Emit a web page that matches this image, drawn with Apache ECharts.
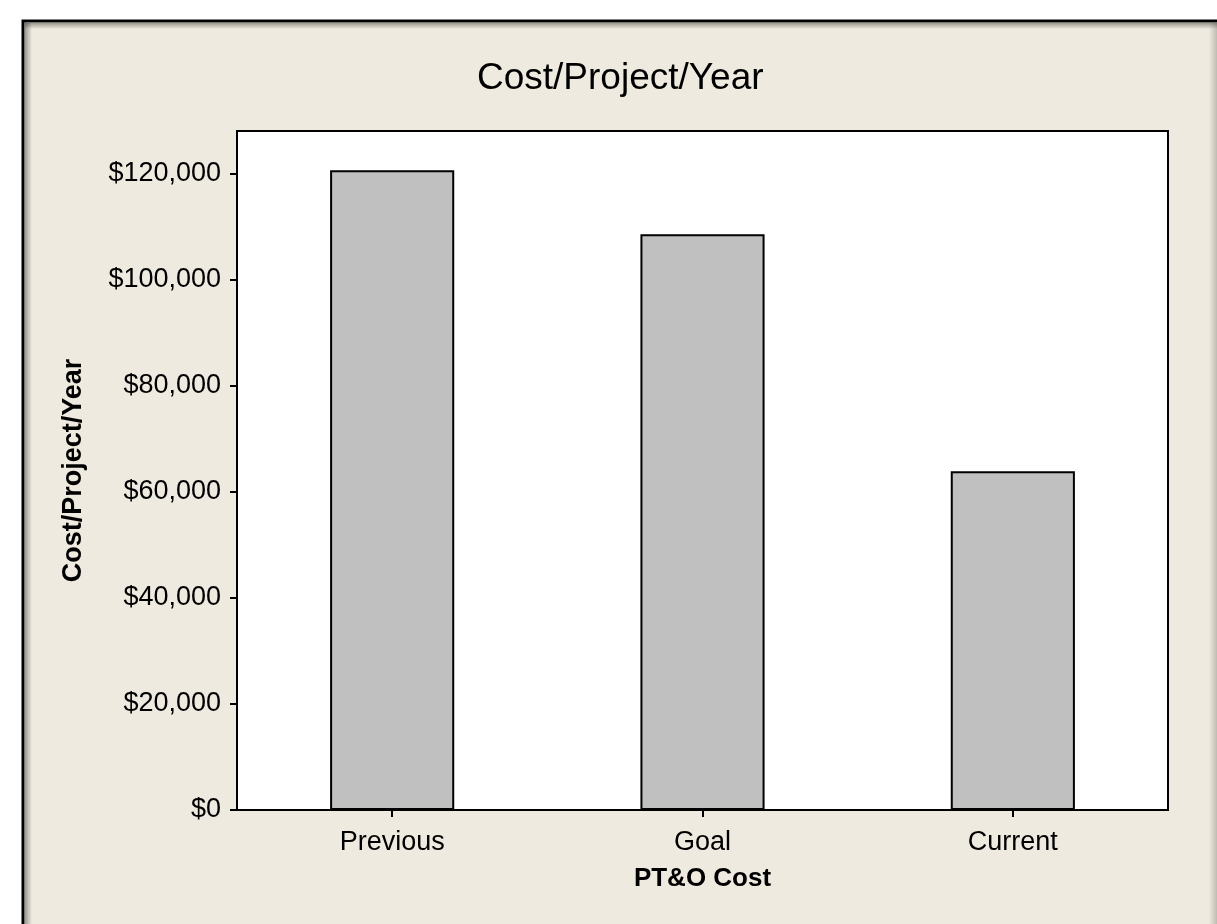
<!DOCTYPE html>
<html>
<head>
<meta charset="utf-8">
<script src="https://cdn.jsdelivr.net/npm/echarts@6/dist/echarts.min.js"></script>
<style>
html,body{margin:0;padding:0;background:#fff;}
#chart{width:1217px;height:924px;}
</style>
</head>
<body>
<div id="chart"></div>
<script>
var categories = ['Previous', 'Goal', 'Current'];
var costValues = [120700, 108600, 63900];
var yTicks = [0, 20000, 40000, 60000, 80000, 100000, 120000];
var yMax = 128100;

var FONT = 'Liberation Sans';
function money(v) { return '$' + Number(v).toLocaleString('en-US'); }

var chart = echarts.init(document.getElementById('chart'), null, {renderer: 'canvas'});
chart.setOption({
  backgroundColor: '#ffffff',
  animation: false,
  graphic: [
    {type: 'rect', z: -10, shape: {x: 23, y: 21, width: 1210, height: 920},
     style: {fill: '#EEEAE0', stroke: '#000', lineWidth: 3}},
    {type: 'rect', z: -9, shape: {x: 25, y: 23, width: 1210, height: 6},
     style: {fill: {type: 'linear', x: 0, y: 0, x2: 0, y2: 1, colorStops: [{offset: 0, color: 'rgba(0,0,0,0.35)'}, {offset: 1, color: 'rgba(0,0,0,0)'}]}}},
    {type: 'rect', z: -9, shape: {x: 25, y: 23, width: 7, height: 910},
     style: {fill: {type: 'linear', x: 0, y: 0, x2: 1, y2: 0, colorStops: [{offset: 0, color: 'rgba(0,0,0,0.35)'}, {offset: 1, color: 'rgba(0,0,0,0)'}]}}},
    {type: 'rect', z: -9, shape: {x: 1209, y: 23, width: 8, height: 910},
     style: {fill: {type: 'linear', x: 0, y: 0, x2: 1, y2: 0, colorStops: [{offset: 0, color: 'rgba(0,0,0,0)'}, {offset: 1, color: 'rgba(0,0,0,0.2)'}]}}}
  ],
  title: {
    text: 'Cost/Project/Year',
    left: 472,
    top: 55,
    textStyle: {fontFamily: FONT, fontSize: 37, fontWeight: 'normal', color: '#000'}
  },
  grid: {
    left: 237, top: 131, right: 49, bottom: 114,
    show: true, backgroundColor: '#ffffff', borderColor: '#000', borderWidth: 2
  },
  xAxis: {
    type: 'category',
    data: categories,
    name: 'PT&O Cost',
    nameLocation: 'middle',
    nameGap: 56,
    nameTextStyle: {fontFamily: FONT, fontSize: 26, fontWeight: 'bold', color: '#000'},
    axisLine: {show: true, lineStyle: {color: '#000', width: 2}},
    axisTick: {show: true, alignWithLabel: true, length: 7, lineStyle: {color: '#000', width: 2}},
    axisLabel: {fontFamily: FONT, fontSize: 27, color: '#000', margin: 19},
    splitLine: {show: false}
  },
  yAxis: {
    type: 'value',
    min: 0,
    max: yMax,
    interval: 20000,
    name: 'Cost/Project/Year',
    nameLocation: 'middle',
    nameGap: 150,
    nameTextStyle: {fontFamily: FONT, fontSize: 27, fontWeight: 'bold', color: '#000'},
    axisLine: {show: true, lineStyle: {color: '#000', width: 2}},
    axisTick: {show: true, length: 7, customValues: yTicks, lineStyle: {color: '#000', width: 2}},
    axisLabel: {fontFamily: FONT, fontSize: 27, color: '#000', margin: 16, customValues: yTicks, formatter: money},
    splitLine: {show: false}
  },
  series: [{
    type: 'bar',
    data: costValues,
    barWidth: '40%',
    itemStyle: {color: '#C0C0C0', borderColor: '#000', borderWidth: 2}
  }]
});
</script>
</body>
</html>
